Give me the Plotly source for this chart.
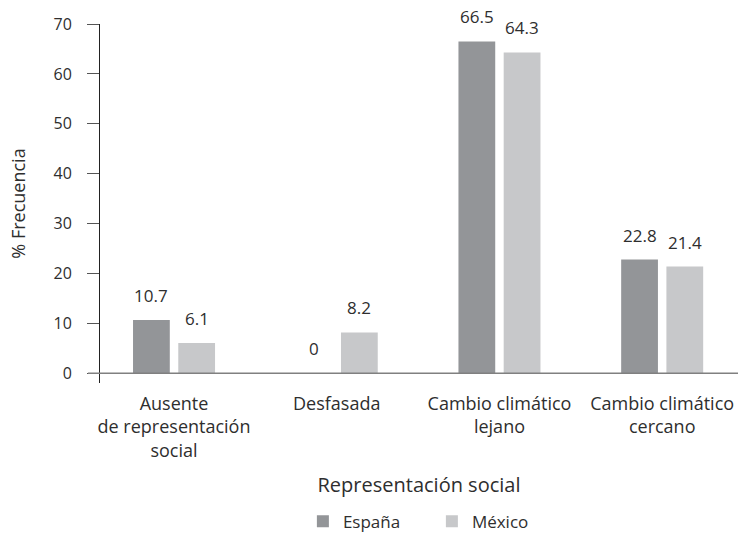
import plotly.graph_objects as go

categories = ["Ausente<br>de representación<br>social", "Desfasada",
              "Cambio climático<br>lejano", "Cambio climático<br>cercano"]
espana = [10.7, 0, 66.5, 22.8]
mexico = [6.1, 8.2, 64.3, 21.4]
value_labels_es = ["10.7", "0", "66.5", "22.8"]
value_labels_mx = ["6.1", "8.2", "64.3", "21.4"]
y_ticks = [0, 10, 20, 30, 40, 50, 60, 70]

FONT = "Open Sans"
TXT = "#2e2e2e"
C_ES = "#939598"
C_MX = "#c7c8ca"
BAR_W = 0.226
OFF_ES = -0.252
OFF_MX = 0.026

xpos = list(range(len(categories)))

fig = go.Figure()
fig.add_trace(go.Bar(name="España", x=xpos, y=espana, width=BAR_W, offset=OFF_ES,
                     marker=dict(color=C_ES, line=dict(width=0))))
fig.add_trace(go.Bar(name="México", x=xpos, y=mexico, width=BAR_W, offset=OFF_MX,
                     marker=dict(color=C_MX, line=dict(width=0))))

annotations = []
for i, (v, t) in enumerate(zip(espana, value_labels_es)):
    annotations.append(dict(x=i + OFF_ES + BAR_W / 2, y=v, text=t, showarrow=False,
                            xref="x", yref="y", yanchor="bottom", yshift=11,
                            font=dict(family=FONT, size=17, color=TXT)))
for i, (v, t) in enumerate(zip(mexico, value_labels_mx)):
    annotations.append(dict(x=i + OFF_MX + BAR_W / 2, y=v, text=t, showarrow=False,
                            xref="x", yref="y", yanchor="bottom", yshift=11,
                            font=dict(family=FONT, size=17, color=TXT)))

fig.update_layout(
    width=738, height=533,
    margin=dict(l=100, r=0, t=24, b=150, autoexpand=False),
    plot_bgcolor="white", paper_bgcolor="white",
    font=dict(family=FONT, size=16, color=TXT),
    barmode="overlay",
    showlegend=True,
    legend=dict(orientation="h", x=0.318, xanchor="left",
                yref="container", y=0.021, yanchor="middle",
                font=dict(family=FONT, size=17, color=TXT), entrywidth=84,
                traceorder="normal"),
    annotations=annotations,
    xaxis=dict(range=[-0.455, 3.466], tickmode="array", tickvals=xpos, ticktext=categories,
               showline=False, showgrid=False, zeroline=False, ticks="",
               automargin=False, ticklabelstandoff=8,
               tickfont=dict(family=FONT, size=18, color=TXT),
               title=dict(text="Representación social", standoff=17,
                          font=dict(family=FONT, size=20, color=TXT))),
    yaxis=dict(range=[-1.94, 70], tickmode="array", tickvals=y_ticks,
               showline=True, linecolor="#222222", linewidth=1,
               showgrid=False, zeroline=False, automargin=False,
               ticks="outside", ticklen=12, tickcolor="#555555", tickwidth=1,
               ticklabelstandoff=12,
               tickfont=dict(family=FONT, size=16, color=TXT),
               title=dict(text="% Frecuencia", standoff=23,
                          font=dict(family=FONT, size=18, color=TXT))),
    shapes=[dict(type="line", xref="paper", yref="y", x0=-0.0188, x1=1, y0=0, y1=0,
                 line=dict(color="#808080", width=1.5), layer="above")],
)

fig.write_html("out.html", config={"displayModeBar": False},
               post_script="document.body.style.margin='0';document.body.style.overflow='hidden';")
